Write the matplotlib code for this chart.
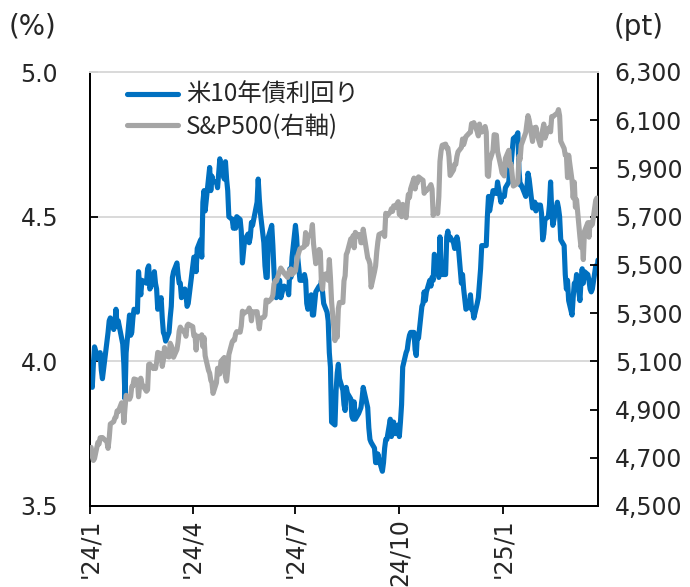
import matplotlib
matplotlib.use("Agg")
import matplotlib.pyplot as plt
import matplotlib.ticker as mticker
from matplotlib.font_manager import FontProperties
import pandas as pd

plt.rcParams["font.family"] = ["DejaVu Sans", "Noto Sans CJK JP"]

# NYSE closing days, Jan 2024 - Mar 2025
market_holidays = ["2024-01-15", "2024-02-19", "2024-03-29", "2024-05-27",
                   "2024-06-19", "2024-07-04", "2024-09-02", "2024-11-28",
                   "2024-12-25", "2025-01-01", "2025-01-09", "2025-01-20",
                   "2025-02-17"]
dates = pd.bdate_range("2024-01-02", "2025-03-26", freq="C",
                       holidays=market_holidays)

# US 10-year Treasury yield (%)
ust10y = [
    3.94, 3.91, 3.99, 4.05, 4.01, 4.02, 4.03, 3.97, 3.94, 4.07, 4.10, 4.14, 4.15, 4.11, 4.13, 4.18, 4.12, 4.14, 4.08, 4.06, 3.99,
    3.87, 4.03, 4.16, 4.09, 4.10, 4.15, 4.18, 4.17, 4.31, 4.26, 4.23, 4.28, 4.27, 4.32, 4.33, 4.25, 4.28, 4.31, 4.27, 4.25,
    4.18, 4.22, 4.15, 4.10, 4.09, 4.07, 4.10, 4.15, 4.19, 4.29, 4.31, 4.34, 4.30, 4.27, 4.27, 4.22, 4.25, 4.23, 4.19, 4.20,
    4.33, 4.36, 4.36, 4.31, 4.39, 4.42, 4.36, 4.55, 4.59, 4.52, 4.63, 4.67, 4.59, 4.64, 4.62, 4.62, 4.60, 4.65, 4.70, 4.67, 4.63, 4.69,
    4.63, 4.59, 4.50, 4.49, 4.46, 4.49, 4.46, 4.50, 4.49, 4.45, 4.34, 4.38, 4.42, 4.44, 4.41, 4.43, 4.48, 4.47, 4.55, 4.63, 4.56, 4.51,
    4.41, 4.33, 4.29, 4.29, 4.43, 4.47, 4.40, 4.31, 4.24, 4.22, 4.28, 4.22, 4.25, 4.26, 4.25, 4.23, 4.32, 4.29, 4.36,
    4.47, 4.43, 4.36, 4.28, 4.28, 4.30, 4.28, 4.20, 4.18, 4.23, 4.16, 4.16, 4.20, 4.24, 4.26, 4.25, 4.28, 4.24, 4.20, 4.17, 4.14, 4.03,
    3.98, 3.79, 3.78, 3.90, 3.96, 3.99, 3.94, 3.90, 3.85, 3.83, 3.91, 3.89, 3.87, 3.81, 3.80, 3.86, 3.80, 3.82, 3.83, 3.84, 3.87, 3.91,
    3.84, 3.77, 3.73, 3.72, 3.70, 3.65, 3.65, 3.68, 3.66, 3.62, 3.65, 3.70, 3.73, 3.73, 3.80, 3.74, 3.79, 3.79, 3.75, 3.78,
    3.74, 3.79, 3.85, 3.98, 4.03, 4.04, 4.07, 4.09, 4.10, 4.10, 4.04, 4.02, 4.09, 4.08, 4.19, 4.20, 4.24, 4.21, 4.24, 4.28, 4.26, 4.29, 4.28,
    4.37, 4.31, 4.29, 4.43, 4.33, 4.30, 4.30, 4.43, 4.45, 4.42, 4.43, 4.41, 4.39, 4.41, 4.43, 4.41, 4.27, 4.30, 4.25, 4.18,
    4.19, 4.23, 4.18, 4.18, 4.15, 4.20, 4.22, 4.27, 4.32, 4.40, 4.40, 4.40, 4.50, 4.57, 4.52, 4.59, 4.59, 4.58, 4.62, 4.55, 4.57,
    4.57, 4.60, 4.62, 4.69, 4.68, 4.77, 4.78, 4.79, 4.66, 4.61, 4.61, 4.57, 4.60, 4.65, 4.63, 4.53, 4.55, 4.55, 4.52, 4.54,
    4.54, 4.51, 4.42, 4.44, 4.49, 4.50, 4.54, 4.62, 4.52, 4.47, 4.55, 4.53, 4.50, 4.42, 4.40, 4.30, 4.25, 4.28, 4.21,
    4.16, 4.22, 4.27, 4.26, 4.30, 4.21, 4.28, 4.32, 4.27, 4.31, 4.30, 4.28, 4.25, 4.24, 4.25, 4.33, 4.31, 4.35,
]

# S&P 500 close (pt)
spx = [
    4743, 4705, 4689, 4697, 4764, 4757, 4783, 4780, 4784, 4766, 4739, 4781, 4840, 4850, 4865, 4869, 4894, 4891, 4928, 4925, 4846,
    4906, 4959, 4943, 4954, 4995, 4998, 5027, 5022, 4953, 5001, 5030, 5006, 4976, 4982, 5087, 5089, 5070, 5078, 5070, 5096,
    5137, 5131, 5079, 5105, 5157, 5124, 5118, 5175, 5165, 5150, 5117, 5149, 5179, 5225, 5242, 5234, 5218, 5204, 5248, 5254,
    5244, 5206, 5211, 5147, 5204, 5202, 5210, 5161, 5199, 5123, 5062, 5051, 5022, 5011, 4967, 5011, 5071, 5072, 5048, 5100, 5116, 5036,
    5018, 5064, 5128, 5181, 5188, 5188, 5214, 5223, 5221, 5247, 5308, 5297, 5303, 5308, 5321, 5307, 5268, 5305, 5306, 5267, 5235, 5278,
    5283, 5291, 5354, 5353, 5347, 5361, 5375, 5421, 5434, 5432, 5473, 5487, 5473, 5465, 5448, 5469, 5478, 5483, 5460,
    5475, 5509, 5537, 5567, 5573, 5577, 5634, 5585, 5615, 5631, 5667, 5588, 5545, 5505, 5564, 5556, 5427, 5399, 5459, 5464, 5436, 5522,
    5447, 5347, 5186, 5240, 5200, 5319, 5344, 5344, 5434, 5455, 5543, 5554, 5608, 5597, 5621, 5571, 5635, 5617, 5626, 5592, 5592, 5648,
    5529, 5520, 5503, 5408, 5471, 5496, 5554, 5596, 5626, 5633, 5635, 5618, 5714, 5703, 5719, 5733, 5722, 5745, 5738, 5762,
    5709, 5710, 5700, 5751, 5696, 5751, 5792, 5780, 5815, 5860, 5815, 5842, 5841, 5865, 5854, 5851, 5797, 5810, 5808, 5824, 5833, 5814, 5705,
    5729, 5713, 5783, 5929, 5973, 5996, 6001, 5984, 5985, 5949, 5871, 5894, 5917, 5917, 5949, 5969, 5987, 6022, 5999, 6032,
    6047, 6050, 6086, 6075, 6090, 6053, 6035, 6084, 6051, 6051, 6074, 6051, 5872, 5867, 5931, 5974, 6040, 6038, 5971, 5907, 5882,
    5869, 5942, 5975, 5909, 5918, 5827, 5836, 5843, 5950, 5937, 5997, 6049, 6086, 6119, 6101, 6012, 6068, 6039, 6071, 6041,
    5995, 6038, 6061, 6084, 6026, 6066, 6069, 6052, 6115, 6115, 6130, 6144, 6118, 6013, 5983, 5955, 5956, 5862, 5955,
    5850, 5778, 5843, 5739, 5770, 5615, 5572, 5599, 5522, 5639, 5675, 5615, 5675, 5663, 5668, 5768, 5777, 5712,
]

tick_dates = ["2024-01-01", "2024-04-01", "2024-07-01", "2024-10-01", "2025-01-01"]
tick_labels = ["'24/1", "'24/4", "'24/7", "24/10", "'25/1"]
yield_ticks = [3.5, 4.0, 4.5, 5.0]
spx_ticks = [4500, 4700, 4900, 5100, 5300, 5500, 5700, 5900, 6100, 6300]

label_yield = "米10年債利回り"
label_spx = "S&P500(右軸)"

BLUE = "#0070C0"
GRAY = "#A5A5A5"
TEXT = "#262626"
GRID = "#D9D9D9"

fig = plt.figure(figsize=(6.9, 5.87), dpi=100)
ax = fig.add_axes([90 / 690, 1 - 506 / 587, 508 / 690, 434 / 587])
ax2 = ax.twinx()

ax.set_xlim(pd.Timestamp("2024-01-01"), pd.Timestamp("2025-03-26"))
ax.set_ylim(3.5, 5.0)
ax2.set_ylim(4500, 6300)

l1, = ax.plot(dates, ust10y, color=BLUE, lw=3.7, solid_joinstyle="round",
              solid_capstyle="round", zorder=3)
l2, = ax2.plot(dates, spx, color=GRAY, lw=3.7, solid_joinstyle="round",
               solid_capstyle="round", zorder=3)

# horizontal gridlines on the left scale
for v in yield_ticks[1:-1]:
    ax.axhline(v, color=GRID, lw=1.4, zorder=1)

ax.set_yticks(yield_ticks)
ax.yaxis.set_major_formatter(mticker.FormatStrFormatter("%.1f"))
ax2.set_yticks(spx_ticks)
ax2.yaxis.set_major_formatter(mticker.FuncFormatter(lambda v, p: f"{int(v):,}"))

ax.set_xticks(pd.to_datetime(tick_dates))
ax.set_xticklabels(tick_labels, rotation=90, va="top", ha="center")

ax.tick_params(axis="y", direction="in", length=6, width=1.3, colors="black",
               labelcolor=TEXT, labelsize=17, pad=23)
ax2.tick_params(axis="y", direction="in", length=6, width=1.3, colors="black",
                labelcolor=TEXT, labelsize=17, pad=12)
ax.tick_params(axis="x", direction="out", length=6, width=1.3, colors="black",
               labelcolor=TEXT, labelsize=17, pad=3)

for a in (ax, ax2):
    for s in ("left", "right", "bottom"):
        a.spines[s].set_color("black")
        a.spines[s].set_linewidth(1.3)
ax.spines["top"].set_visible(False)
ax2.spines["top"].set_color(GRID)
ax2.spines["top"].set_linewidth(1.4)

leg = ax.legend([l1, l2], [label_yield, label_spx], loc="upper left",
                bbox_to_anchor=(0.045, 1.01), frameon=False,
                prop=FontProperties(family=["Noto Sans CJK JP", "DejaVu Sans"], size=17.5),
                handlelength=2.1, handletextpad=0.3, labelspacing=0.22,
                borderaxespad=0.2)
for t in leg.get_texts():
    t.set_color(TEXT)

fig.text(9 / 690, 1 - 27 / 587, "(%)", fontsize=20, color=TEXT, va="center", ha="left")
fig.text(614 / 690, 1 - 27 / 587, "(pt)", fontsize=20, color=TEXT, va="center", ha="left")

fig.savefig("out.png", dpi=100)
